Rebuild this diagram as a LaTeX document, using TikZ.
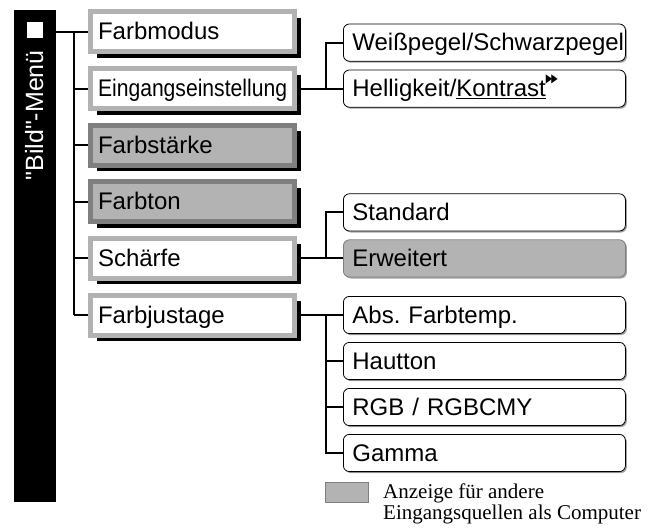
\documentclass[tikz,border=0pt]{standalone}
\usepackage{fontspec}
\setmainfont{Liberation Sans}
\newfontfamily\barfont[Ligatures=ResetAll]{Liberation Sans}
\newfontfamily\legfont{Liberation Serif}
\newfontfamily\symfont{DejaVu Sans}
\usepackage{graphicx}
\usepackage{xcolor}
\usepackage{tikz}
\usetikzlibrary{positioning, shadows}
\definecolor{rimlight}{HTML}{B2B2B2}
\definecolor{rimdark}{HTML}{7F7F7F}
\definecolor{other}{HTML}{B3B3B3}
\newcommand{\menufont}{\fontsize{24}{28}\selectfont}
\newcommand{\fwd}{\raisebox{14pt}{\symfont\fontsize{12}{12}\selectfont\scalebox{0.7}[1]{▶}\kern-1pt\scalebox{0.7}[1]{▶}}}
\tikzset{
  menu/.style={rectangle, draw=rimlight, fill=white, line width=5pt, outer sep=2.5pt, minimum height=40pt, text width=189pt, inner xsep=7.5pt, align=left, text height=18pt, text depth=2pt, font=\menufont, general shadow={fill=black, shadow xshift=6pt, shadow yshift=-6pt}},
  menuo/.style={menu, draw=rimdark, fill=other},
  sub/.style={rectangle, rounded corners=6pt, draw=black, fill=white, line width=0.8pt, minimum height=37.2pt, text width=264pt, inner xsep=9pt, align=left, text height=18pt, text depth=2pt, font=\menufont, drop shadow={shadow xshift=1.5pt, shadow yshift=-1.5pt, fill=black!60, opacity=.6}},
  subo/.style={sub, draw=rimdark, fill=other},
  barbox/.style={rectangle, fill=black, inner sep=0pt, minimum width=42pt, minimum height=492pt},
  legbox/.style={rectangle, fill=other, draw=rimdark, line width=0.8pt, inner sep=0pt, minimum width=43pt, minimum height=20pt},
  legtxt/.style={align=left, inner sep=0pt, font=\legfont\fontsize{21}{21}\selectfont},
  conn/.style={line width=2pt, black},
}
\begin{document}
\begin{tikzpicture}[x=1pt, y=-1pt, node distance=11.6pt and 46pt]
\useasboundingbox (0,0) rectangle (663,527);
\node[barbox, anchor=north west] (bar) at (14,10) {};
\node[rotate=90, anchor=base east, inner sep=0pt, text=white, font=\barfont\fontsize{25}{28}\selectfont] (btx) at (43,22) {"Bild"-Menü\hspace{12pt}\rule{16pt}{16pt}};
% first level
\node[menu, anchor=west] (fm) at (88,32) {Farbmodus};
\node[menu, below=of fm] (ein) {\scalebox{0.88}[1]{Eingangseinstellung}};
\node[menuo, below=of ein] (fs) {Farbstärke};
\node[menuo, below=of fs] (ft) {Farbton};
\node[menu, below=of ft] (sh) {Schärfe};
\node[menu, below=of sh] (fj) {Farbjustage};
% second level
\node[sub, right=of ein] (hk) {Helligkeit/\underline{Kontrast}\fwd};
\node[sub, above=8pt of hk] (wp) {Weißpegel/Schwarzpegel};
\node[subo, right=of sh] (er) {Erweitert};
\node[sub, above=8pt of er] (st) {Standard};
\node[sub, right=of fj] (ab) {Abs.\ Farbtemp.};
\node[sub, below=8pt of ab] (ha) {Hautton};
\node[sub, below=8pt of ha] (rg) {RGB / RGBCMY};
\node[sub, below=8pt of rg] (ga) {Gamma};
\coordinate (sp1) at (74,0);
\coordinate (sp2) at (326,0);
\draw[conn] (bar.east |- fm.west) -- (fm.west);
\draw[conn] (sp1 |- fm.west) -- (sp1 |- fj.west);
\foreach \n in {ein,fs,ft,sh,fj} \draw[conn] (sp1 |- \n.west) -- (\n.west);
\draw[conn] (ein.east) -- (hk.west); \draw[conn] (wp.west) -| (sp2 |- hk.west);
\draw[conn] (sh.east) -- (er.west); \draw[conn] (st.west) -| (sp2 |- er.west);
\draw[conn] (fj.east) -- (ab.west); \draw[conn] (ga.west) -| (sp2 |- ab.west);
\foreach \n in {ha,rg} \draw[conn] (sp2 |- \n.west) -- (\n.west);
% legend
\node[legbox, anchor=north west] (lgb) at (324.5,481.5) {};
\node[legtxt, anchor=north west] (lgt) at (383,484) {Anzeige für andere\\Eingangsquellen als Computer};
\end{tikzpicture}
\end{document}
